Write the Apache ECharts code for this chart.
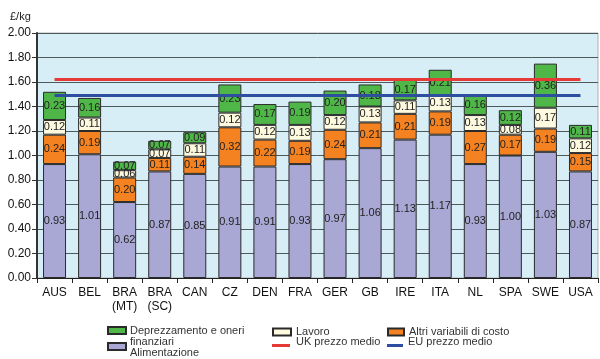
<!DOCTYPE html>
<html><head><meta charset="utf-8">
<script src="https://cdn.jsdelivr.net/npm/echarts@6/dist/echarts.min.js"></script>
<style>html,body{margin:0;padding:0;background:#fff}#c{width:600px;height:359px}</style>
</head><body><div id="c"></div>
<script>
const categories = ['AUS','BEL','BRA\n(MT)','BRA\n(SC)','CAN','CZ','DEN','FRA','GER','GB','IRE','ITA','NL','SPA','SWE','USA'];
const alimentazione = [0.93,1.01,0.62,0.87,0.85,0.91,0.91,0.93,0.97,1.06,1.13,1.17,0.93,1.00,1.03,0.87];
const altri = [0.24,0.19,0.20,0.11,0.14,0.32,0.22,0.19,0.24,0.21,0.21,0.19,0.27,0.17,0.19,0.15];
const lavoro = [0.12,0.11,0.06,0.07,0.11,0.12,0.12,0.13,0.12,0.13,0.11,0.13,0.13,0.08,0.17,0.12];
const deprezzamento = [0.23,0.16,0.07,0.07,0.09,0.23,0.17,0.19,0.20,0.18,0.17,0.21,0.16,0.12,0.36,0.11];
const ukPrice = 1.62;
const euPrice = 1.49;

const names = {
  dep: 'Deprezzamento e oneri finanziari',
  lav: 'Lavoro',
  alt: 'Altri variabili di costo',
  ali: 'Alimentazione',
  uk: 'UK prezzo medio',
  eu: 'EU prezzo medio'
};
const chart = echarts.init(document.getElementById('c'));
const font = 'Arial, "Liberation Sans", sans-serif';
function barSeries(name, data, color) {
  return {
    name, type: 'bar', stack: 's', data, barWidth: 23,
    itemStyle: { color, borderColor: '#2a2a2a', borderWidth: 1 },
    label: { show: true, position: 'inside', formatter: p => p.value.toFixed(2),
      fontFamily: font, fontSize: 11, color: '#222' },
    z: 3
  };
}
function lg(name, left, top, opts) {
  opts = opts || {};
  const o = {
    data: [name], left, top, padding: 0, selectedMode: false, icon: 'rect',
    itemWidth: opts.w || 18, itemHeight: opts.h || 7,
    textStyle: { fontFamily: font, fontSize: 11, color: '#333', lineHeight: 12 }
  };
  if (opts.noText) o.formatter = () => '';
  return o;
}
function txt(text, x, y) {
  return { type: 'text', left: x, top: y - 6, style: { text, fontFamily: font, fontSize: 11, fill: '#333', lineHeight: 12 } };
}
chart.setOption({
  animation: false,
  backgroundColor: '#fff',
  title: { text: '£/kg', left: 5, top: 6, textStyle: { fontFamily: font, fontSize: 11, fontWeight: 'normal', color: '#222' } },
  grid: { left: 37, right: 2, top: 33, bottom: 81, show: true, backgroundColor: '#d8eef6', borderColor: '#b0b0b0', borderWidth: 1 },
  legend: [
    lg(names.dep, 107, 326, { noText: true }),
    lg(names.ali, 107, 342, { noText: true }),
    lg(names.lav, 272, 326),
    lg(names.uk, 272, 344, { h: 3, noText: true }),
    lg(names.alt, 387, 326, { w: 16 }),
    lg(names.eu, 387, 344, { w: 16, h: 3, noText: true })
  ],
  graphic: [
    txt('Deprezzamento e oneri', 130, 331),
    txt('finanziari', 130, 342),
    txt('Alimentazione', 130, 353),
    txt('UK prezzo medio', 296, 342),
    txt('EU prezzo medio', 408, 342)
  ],
  xAxis: {
    type: 'category', data: categories,
    axisLine: { lineStyle: { color: '#222', width: 1 } },
    axisTick: { show: true, length: 5, lineStyle: { color: '#222' } },
    axisLabel: { fontFamily: font, fontSize: 12, color: '#111', margin: 8, lineHeight: 14, interval: 0 }
  },
  yAxis: {
    type: 'value', min: 0, max: 2, interval: 0.2,
    axisLine: { show: true, lineStyle: { color: '#333', width: 2 } },
    axisTick: { show: true, length: 5, lineStyle: { color: '#333' } },
    axisLabel: { fontFamily: font, fontSize: 12, color: '#111', formatter: v => v.toFixed(2), margin: 6 },
    splitLine: { lineStyle: { color: '#4d5a5c', width: 1 } }
  },
  series: [
    barSeries(names.ali, alimentazione, '#a9a8d5'),
    barSeries(names.alt, altri, '#f58220'),
    barSeries(names.lav, lavoro, '#fdfae0'),
    barSeries(names.dep, deprezzamento, '#4fb748'),
    { name: names.uk, type: 'line', data: categories.map(() => ukPrice), symbol: 'none',
      lineStyle: { color: '#e53a35', width: 3 }, itemStyle: { color: '#e53a35' }, z: 4 },
    { name: names.eu, type: 'line', data: categories.map(() => euPrice), symbol: 'none',
      lineStyle: { color: '#2e4fa0', width: 3 }, itemStyle: { color: '#2e4fa0' }, z: 4 }
  ]
});
</script></body></html>
